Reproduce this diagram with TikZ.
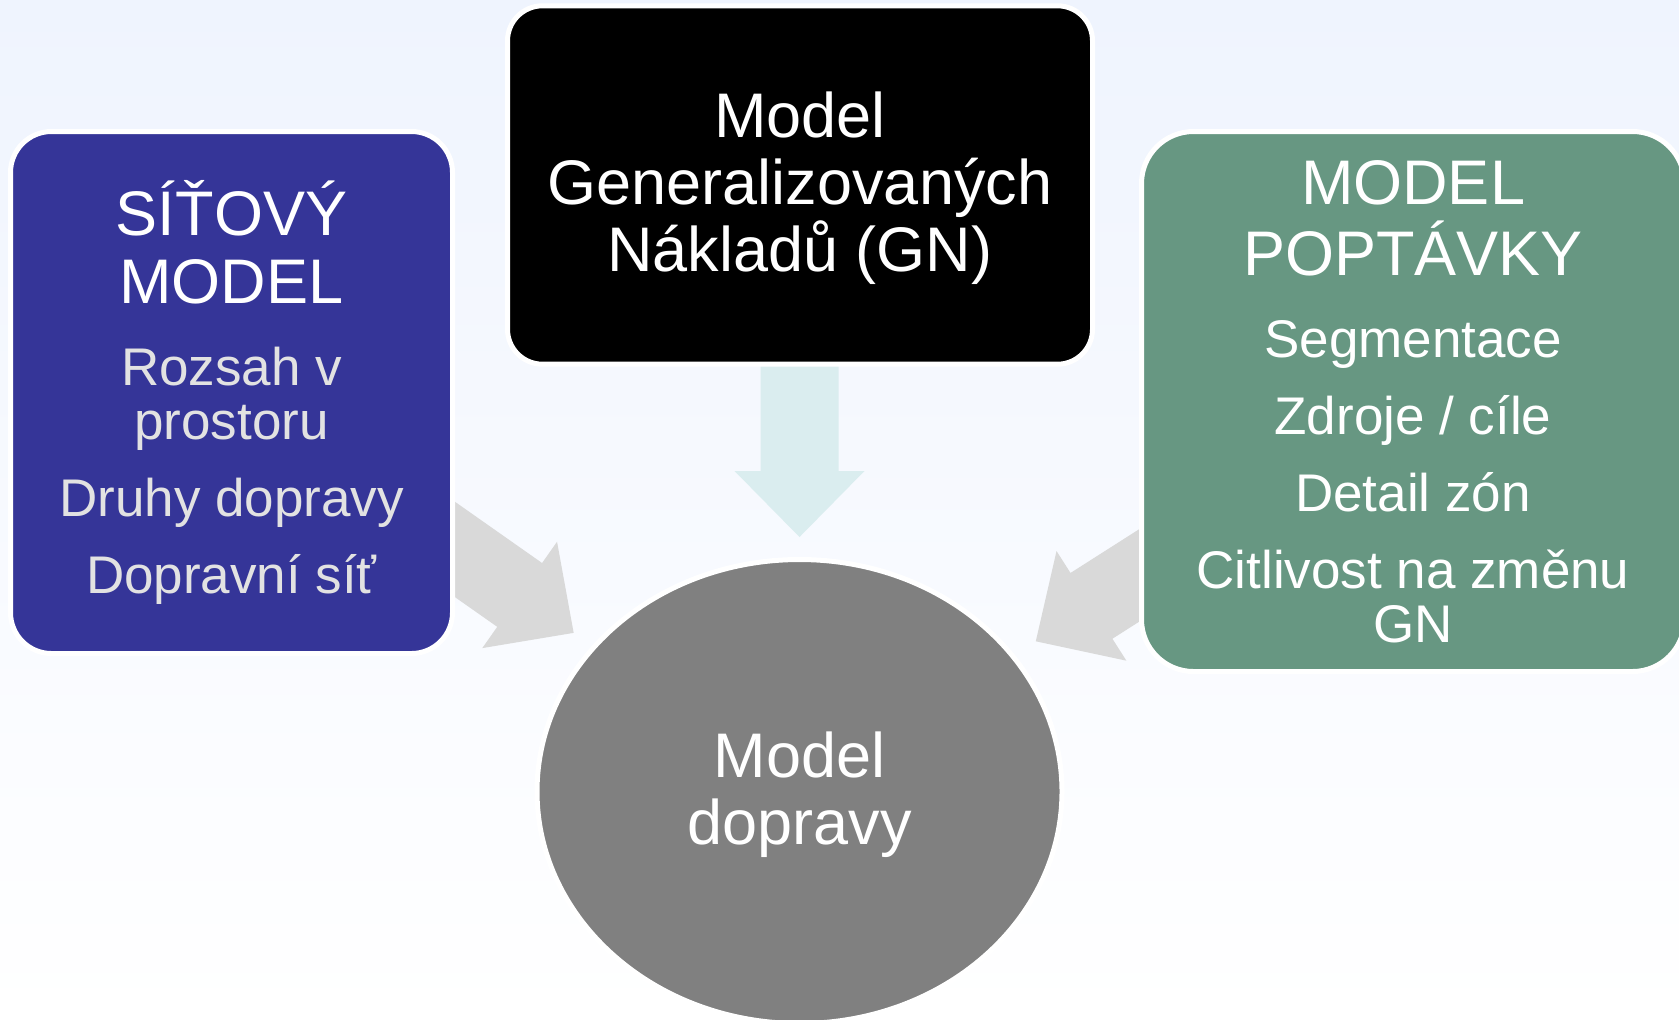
\documentclass[tikz,border=0pt]{standalone}
\usepackage{fontspec}
\setmainfont{Liberation Sans}
\usepackage{tikz}
\usetikzlibrary{calc}
\usetikzlibrary{positioning}
\usetikzlibrary{shapes.geometric}
\definecolor{sitblue}{HTML}{353598}
\definecolor{poptgreen}{HTML}{679782}
\definecolor{modelgray}{HTML}{808080}
\definecolor{arrowgray}{HTML}{D9D9D9}
\definecolor{arrowcyan}{HTML}{DAEDEF}
\definecolor{itemgray}{HTML}{E2E2E2}
\definecolor{bgtop}{HTML}{EFF4FE}
\pgfdeclarelayer{bg}
\pgfsetlayers{bg,main}

\newcommand{\ttlfont}{\fontsize{31.5pt}{33.5pt}\selectfont}
\newcommand{\itmfont}{\fontsize{26.5pt}{26.75pt}\selectfont}
\newcommand{\ttl}{\ttlfont\color{white}}  % font is reset on every line of an aligned node, so it goes on each title line
\newcommand{\lowstrut}{\rule{0pt}{26.2pt}}  % pushes centred text down a little, like the slide

\begin{document}
\begin{tikzpicture}[
     x=0.5pt, y=0.5pt,  % one unit = one pixel of the slide, y goes up as usual
     mybox/.style={rectangle, draw=white, line width=2.5pt, align=center, inner sep=0pt},
     mysidebox/.style={mybox, font=\itmfont}
 ]
 % block arrow along +x, tip at (0,0), rotated into place
 \newcommand{\myblockarrow}[4]{
     \fill[#1, shift={(#2)}, rotate=#3] (0,0) -- (-66,65) -- (-66,39) -- (-#4,39) -- (-#4,-39) -- (-66,-39) -- (-66,-65) -- cycle;
 }

 \useasboundingbox (0,0) rectangle (1679,-1019);
 \begin{pgfonlayer}{bg}
     \shade[top color=bgtop, bottom color=white] (0,0) rectangle (1679,-1019);
 \end{pgfonlayer}

 \node[mysidebox, rounded corners=20.5pt, fill=sitblue, text=itemgray, minimum width=221pt, minimum height=261pt] (sit) at (231.5,-392.5)
     {\ttl SÍŤOVÝ\\[7pt]\ttl MODEL\\[14.5pt]Rozsah v\\prostoru\\[11.75pt]Druhy dopravy\\[11.75pt]Dopravní síť};

 \node[mybox, rounded corners=17.5pt, fill=black, text=white, font=\ttlfont, minimum width=292.5pt, minimum height=179.2pt] (gn) at (800,-185)
     {\lowstrut Model\\Generalizovaných\\Nákladů (GN)};

 \node[mysidebox, rounded corners=26pt, fill=poptgreen, text=white, minimum width=271.5pt, minimum height=270pt] (poptavka) at (1413,-401.5)
     {\ttl MODEL\\[7pt]\ttl POPTÁVKY\\[14.5pt]Segmentace\\[11.75pt]Zdroje / cíle\\[11.75pt]Detail zón\\[11.75pt]Citlivost na změnu\\GN};

 \node[ellipse, draw=white, line width=2.5pt, fill=modelgray, text=white, font=\ttlfont, align=center, inner sep=0pt,
     minimum width=262.5pt, minimum height=232pt] (doprava) at (799.5,-791.5) {\lowstrut Model\\dopravy};

 % tips stop a bit short of the ellipse, on the line towards each box
 \coordinate (tipsit) at ($(doprava.center)!138pt!(sit.center)$);
 \coordinate (tipgn) at ($(doprava.north)+(0,20)$);
 \coordinate (tippopt) at ($(doprava.center)!140pt!(poptavka.center)$);

 \begin{pgfonlayer}{bg}
     \myblockarrow{arrowgray}{tipsit}{-35.1}{200}
     \myblockarrow{arrowcyan}{tipgn}{-90}{175}
     \myblockarrow{arrowgray}{tippopt}{-147.5}{200}
 \end{pgfonlayer}
\end{tikzpicture}
\end{document}
